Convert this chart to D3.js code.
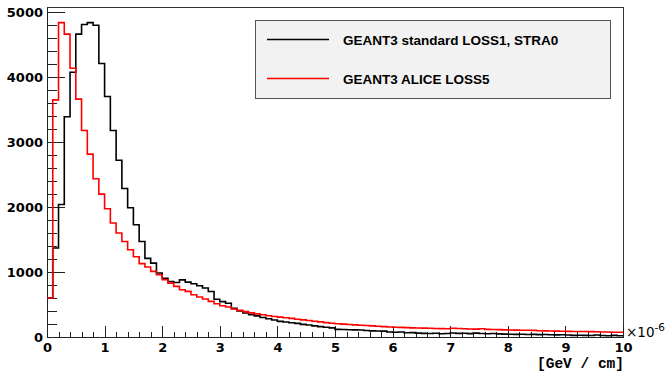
<!DOCTYPE html>
<html>
<head>
<meta charset="utf-8">
<script src="https://cdn.jsdelivr.net/npm/d3@7"></script>
<style>
  body { margin: 0; background: #fff; }
  svg { display: block; }
  .tick text { font-family: 'DejaVu Sans', sans-serif; font-weight: bold; font-size: 13px; fill: #000; }
  .axis path, .axis line { stroke: #222; shape-rendering: crispEdges; }
</style>
</head>
<body>
<div id="chart"></div>
<script>
// dE/dx histograms, 100 bins of 0.1 (x1e-6 GeV/cm) from 0 to 10
const binEdges = [0, 10];
const binWidth = 0.1;

const standardLoss = [
  600, 1370, 2040, 3390, 4075, 4662, 4810, 4840, 4800, 4210,
  3702, 3178, 2720, 2285, 1990, 1728, 1471, 1210, 1138, 985,
  905, 855, 840, 880, 845, 820, 790, 755, 700, 580,
  545, 520, 440, 400, 370, 345, 325, 300, 280, 262,
  240, 232, 220, 210, 195, 185, 172, 160, 150, 140,
  118, 115, 112, 110, 108, 100, 95, 92, 90, 78,
  72, 76, 66, 68, 60, 56, 53, 58, 50, 55,
  62, 56, 58, 52, 60, 55, 50, 55, 48, 45,
  42, 40, 42, 38, 40, 36, 38, 35, 33, 35,
  30, 25, 28, 25, 22, 30, 22, 20, 25, 20
];

const aliceLoss = [
  600, 3650, 4840, 4662, 4138, 3662, 3178, 2815, 2435, 2200,
  1974, 1754, 1600, 1471, 1343, 1235, 1130, 1077, 1010, 958,
  881, 830, 779, 728, 702, 651, 615, 585, 548, 512,
  482, 462, 431, 410, 390, 372, 356, 342, 328, 316,
  306, 296, 286, 274, 264, 254, 243, 233, 222, 212,
  203, 198, 192, 186, 180, 176, 171, 166, 160, 155,
  150, 148, 145, 140, 138, 136, 134, 131, 129, 127,
  135, 131, 126, 123, 121, 126, 118, 116, 113, 110,
  108, 106, 105, 103, 102, 96, 94, 92, 90, 88,
  86, 85, 84, 84, 83, 80, 78, 76, 74, 72
];

const seriesNames = ['GEANT3 standard LOSS1, STRA0', 'GEANT3 ALICE LOSS5'];
const seriesColors = ['#000000', '#ff0000'];
const xMajorTicks = [0, 1, 2, 3, 4, 5, 6, 7, 8, 9, 10];
const yMajorTicks = [0, 1000, 2000, 3000, 4000, 5000];
const yMax = 5080;

const W = 665, H = 371;
const margin = { left: 47, right: 42, top: 7, bottom: 34 };
const iw = W - margin.left - margin.right;
const ih = H - margin.top - margin.bottom;

const svg = d3.select('#chart').append('svg').attr('width', W).attr('height', H);
const g = svg.append('g').attr('transform', `translate(${margin.left},${margin.top})`);

const x = d3.scaleLinear().domain(binEdges).range([0, iw]);
const y = d3.scaleLinear().domain([0, yMax]).range([ih, 0]);

// frame
g.append('rect').attr('x', 0).attr('y', 0).attr('width', iw).attr('height', ih)
  .attr('fill', 'none').attr('stroke', '#333').attr('stroke-width', 1)
  .attr('shape-rendering', 'crispEdges');

// minor ticks
const xMinor = d3.range(0, 10.001, 0.2).filter(v => Math.abs(v - Math.round(v)) > 1e-6);
const yMinor = d3.range(0, 5001, 200).filter(v => v % 1000 !== 0);
g.append('g').attr('class', 'axis').attr('transform', `translate(0,${ih})`)
  .call(d3.axisBottom(x).tickValues(xMinor).tickFormat('').tickSize(-5.5))
  .select('.domain').remove();
g.append('g').attr('class', 'axis')
  .call(d3.axisLeft(y).tickValues(yMinor).tickFormat('').tickSize(-9.5))
  .select('.domain').remove();

// major ticks
g.append('g').attr('class', 'axis').attr('transform', `translate(0,${ih})`)
  .call(d3.axisBottom(x).tickValues(xMajorTicks).tickFormat(d3.format('d')).tickSize(-11).tickSizeOuter(0).tickPadding(6));
g.append('g').attr('class', 'axis')
  .call(d3.axisLeft(y).tickValues(yMajorTicks).tickFormat(d3.format('d')).tickSize(-18).tickSizeOuter(0).tickPadding(4));

// histograms (red drawn last)
function stepPath(vals) {
  const pts = [];
  vals.forEach((v, i) => {
    const x0 = binEdges[0] + i * binWidth;
    pts.push([x(x0), y(v)], [x(x0 + binWidth), y(v)]);
  });
  return d3.line()(pts);
}
[standardLoss, aliceLoss].forEach((vals, k) => {
  g.append('path').attr('d', stepPath(vals))
    .attr('fill', 'none').attr('stroke', seriesColors[k]).attr('stroke-width', 1.6);
});

// exponent and axis title
const ex = g.append('text').attr('x', iw + 3).attr('y', ih)
  .attr('font-family', 'DejaVu Sans, sans-serif').attr('font-size', 13.5).attr('fill', '#000');
ex.append('tspan').text('×10');
ex.append('tspan').attr('dy', -6).attr('font-size', 10.5).text('-6');

g.append('text').attr('x', iw + 1).attr('y', ih + 31).attr('text-anchor', 'end')
  .attr('font-family', 'Liberation Mono, monospace').attr('font-weight', 'bold')
  .attr('font-size', 14.5).attr('fill', '#000').text('[GeV / cm]');

// legend
const lg = svg.append('g').attr('transform', 'translate(255,20)');
lg.append('rect').attr('width', 355).attr('height', 78)
  .attr('fill', '#f2f2f2').attr('stroke', '#555').attr('stroke-width', 1)
  .attr('shape-rendering', 'crispEdges');
seriesNames.forEach((name, k) => {
  const yy = 19.5 + k * 39;
  lg.append('line').attr('x1', 12).attr('x2', 74).attr('y1', yy).attr('y2', yy)
    .attr('stroke', seriesColors[k]).attr('stroke-width', 1.6);
  lg.append('text').attr('x', 88).attr('y', yy + 5)
    .attr('font-family', 'Liberation Sans, Arial, sans-serif').attr('font-weight', 'bold')
    .attr('font-size', 13.5).attr('fill', '#000').text(name);
});
</script>
</body>
</html>
